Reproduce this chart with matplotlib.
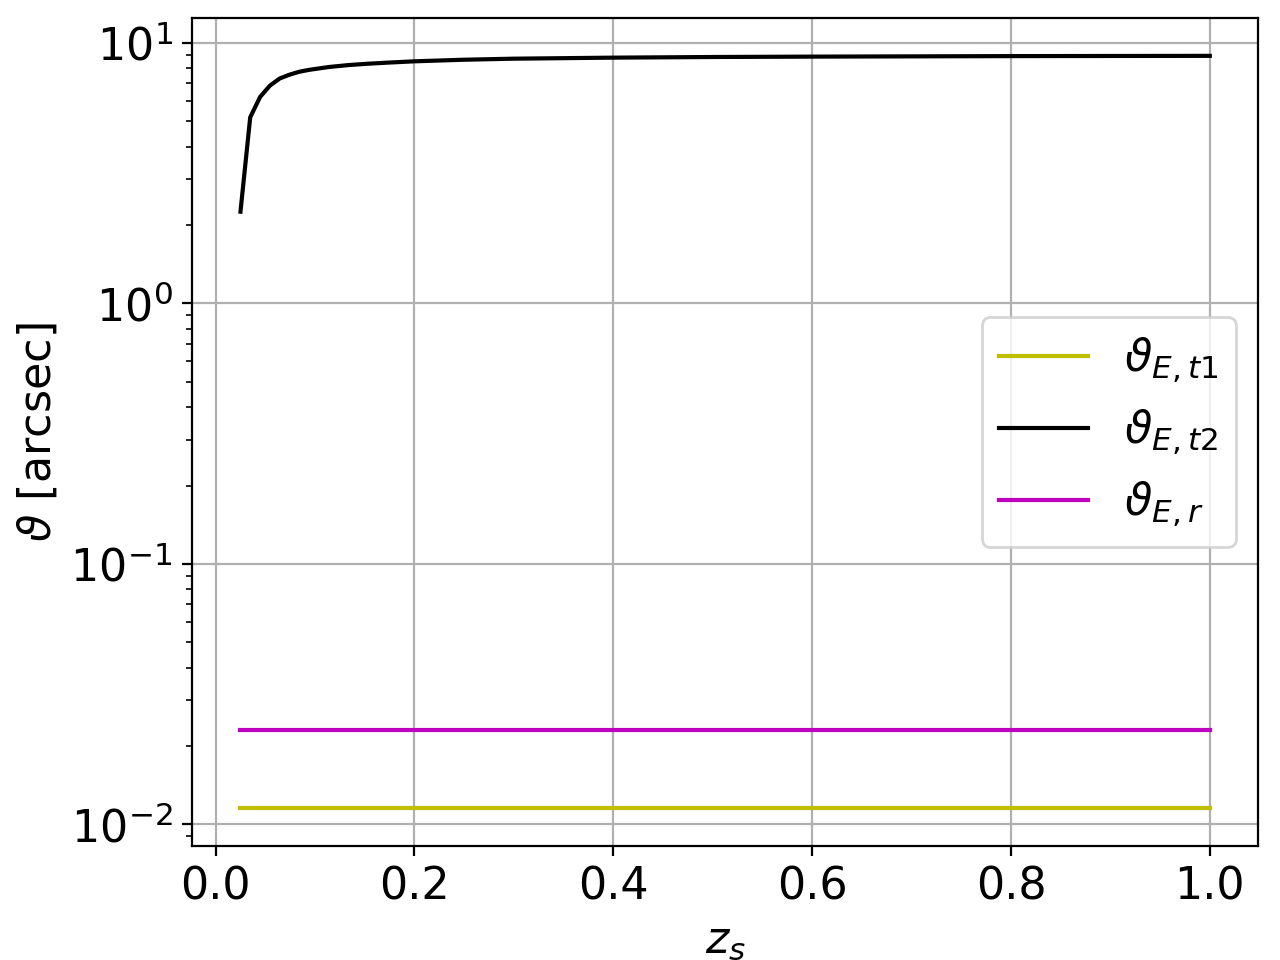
import numpy as np
import matplotlib
matplotlib.use('Agg')
import matplotlib.pyplot as plt

# source redshift samples and Einstein angles (arcsec)
z_s = [0.025, 0.0348, 0.0447, 0.0545, 0.0644, 0.0742, 0.0841, 0.0939, 0.1136,
       0.1333, 0.1530, 0.1727, 0.2, 0.25, 0.3, 0.4, 0.5, 0.6, 0.7, 0.8, 0.9, 1.0]
theta_t2 = [2.25, 5.18, 6.2, 6.85, 7.3, 7.55, 7.75, 7.88, 8.08,
            8.22, 8.32, 8.4, 8.5, 8.62, 8.7, 8.78, 8.83, 8.86, 8.88, 8.9, 8.91, 8.92]
theta_t1 = [0.01155] * len(z_s)
theta_r = [0.0231] * len(z_s)

plt.rcParams['font.size'] = 16

fig, ax = plt.subplots(figsize=(6.4, 4.8), dpi=200)
ax.plot(z_s, theta_t1, 'y', label=r'$\vartheta_{E,t1}$')
ax.plot(z_s, theta_t2, 'k', label=r'$\vartheta_{E,t2}$')
ax.plot(z_s, theta_r, 'm', label=r'$\vartheta_{E,r}$')
ax.set_yscale('log')
ax.set_xlabel(r'$z_s$')
ax.set_ylabel(r'$\vartheta$ [arcsec]')
ax.grid(True)
ax.legend(loc='center right')
fig.subplots_adjust(left=0.15, right=0.983, top=0.981, bottom=0.119)
fig.savefig('out.png')
